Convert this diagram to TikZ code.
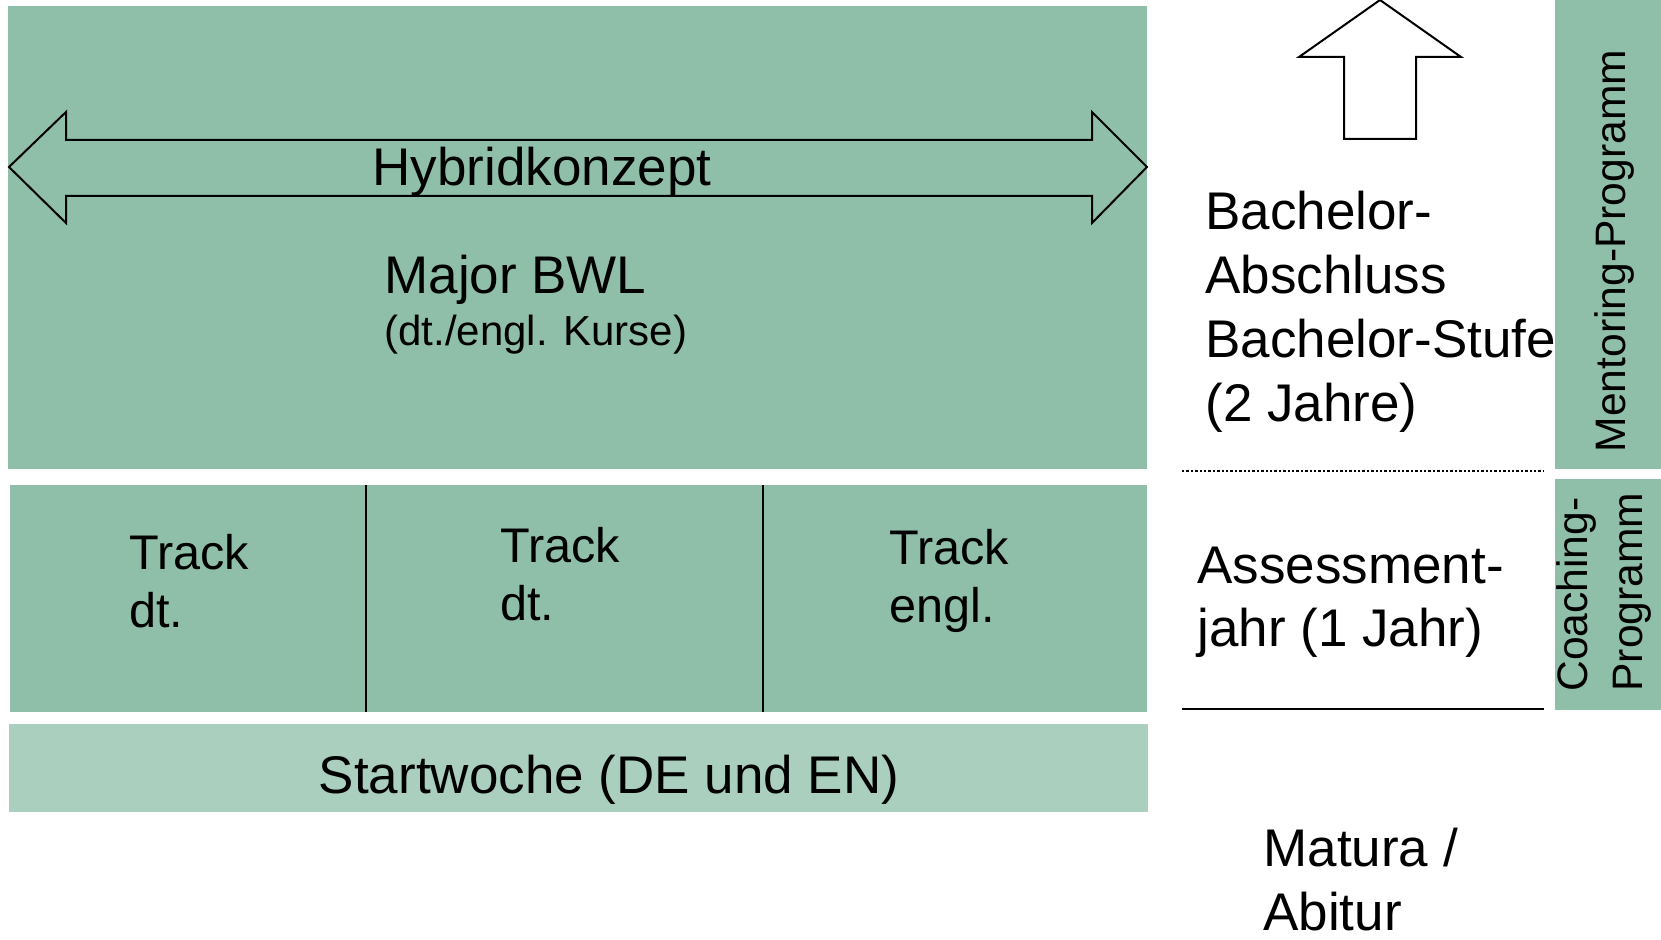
\documentclass[tikz,border=0pt]{standalone}
\usepackage{fontspec}
\setmainfont{Liberation Sans}
\definecolor{stufegreen}{RGB}{143,191,169}
\definecolor{startgreen}{RGB}{171,207,190}
\tikzset{
  bigtext/.style={font=\fontsize{26.5}{32}\selectfont, inner sep=0pt, align=left},
  tracktext/.style={font=\fontsize{24.3}{29}\selectfont, inner sep=0pt, align=left},
  sidetext/.style={font=\fontsize{21.3}{27.5}\selectfont, inner sep=0pt, align=left}
}
\begin{document}
\begin{tikzpicture}[x=0.5pt, y=-0.5pt]
  \useasboundingbox (0, 0) rectangle (1661, 940);

  % green blocks
  \fill[stufegreen] (8, 6) rectangle (1147, 469);
  \fill[stufegreen] (10, 485) rectangle (1147, 712);
  \fill[startgreen] (9, 724) rectangle (1148, 812);
  \fill[stufegreen] (1555, 0) rectangle (1661, 469);
  \fill[stufegreen] (1555, 479) rectangle (1661, 710);

  % track dividers
  \draw[line width=1pt] (366, 485) -- (366, 712);
  \draw[line width=1pt] (763, 485) -- (763, 712);

  % double arrow
  \draw[line width=1pt, line join=miter]
    (9, 167) -- (66, 112) -- (66, 140) -- (1092, 140) -- (1092, 112)
    -- (1147, 167) -- (1092, 223) -- (1092, 196) -- (66, 196)
    -- (66, 223) -- cycle;
  \node[bigtext, anchor=base] (hybrid) at (542, 186) {Hybridkonzept};

  \node[bigtext, anchor=base west] (bwl) at (384, 294) {Major BWL};
  \node[anchor=base west, inner sep=0pt, font=\fontsize{21}{24}\selectfont]
    (kurse) at (384, 346) {(dt./engl. Kurse)};

  % tracks (base = last line)
  \node[tracktext, anchor=base west] (track1) at (129, 628) {Track\\dt.};
  \node[tracktext, anchor=base west] (track2) at (500, 621) {Track\\dt.};
  \node[tracktext, anchor=base west] (track3) at (889, 623) {Track\\engl.};

  \node[bigtext, anchor=base] (start) at (609, 794) {Startwoche (DE und EN)};

  % up arrow
  \draw[line width=1pt, line join=miter]
    (1380, 0) -- (1461, 57) -- (1416, 57) -- (1416, 139) -- (1344, 139)
    -- (1344, 57) -- (1299, 57) -- cycle;

  \node[bigtext, anchor=base west] (bachelor) at (1205, 422)
    {Bachelor-\\Abschluss\\Bachelor-Stufe\\(2 Jahre)};
  \draw[line width=1.3pt, dash pattern=on 1.2pt off 1pt] (1182, 471) -- (1544, 471);

  \node[bigtext, anchor=base west] (assess) at (1197, 647)
    {Assessment-\\jahr (1 Jahr)};
  \draw[line width=1.3pt] (1182, 709) -- (1544, 709);

  \node[bigtext, anchor=base west] (matura) at (1263, 930) {Matura /\\Abitur};

  % side programmes
  \node[sidetext, rotate=90, anchor=base] (mentoring) at (1625, 251)
    {Mentoring-Programm};
  \node[sidetext, rotate=90, anchor=base west] (coaching) at (1642, 692)
    {Coaching-\\Programm};
\end{tikzpicture}
\end{document}
